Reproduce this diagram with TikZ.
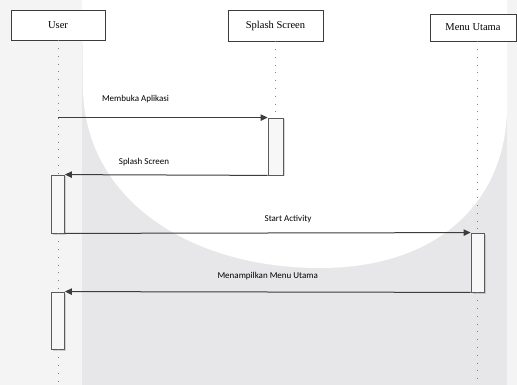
\documentclass[tikz,border=0pt]{standalone}
\usepackage{fontspec}
\setmainfont{Liberation Serif}
\newfontfamily\msgfont{Carlito}
\usepackage{tikz}
\usetikzlibrary{positioning, arrows.meta, shadows}

\definecolor{linegray}{HTML}{3C3C3C}
\definecolor{boxgray}{HTML}{5A5A5A}
\definecolor{bandgray}{HTML}{E7E7E9}
\definecolor{sidegray}{HTML}{F4F4F4}

\begin{document}
\begin{tikzpicture}[x=1pt, y=-1pt,
    actor/.style={rectangle, draw=linegray, fill=white, minimum width=94pt, minimum height=30pt, font=\fontsize{10.5}{12}\selectfont, drop shadow={shadow xshift=1.2pt, shadow yshift=-1.2pt, opacity=0.35}},
    activation/.style={rectangle, draw=boxgray, line width=0.8pt, fill=white!94!gray, minimum width=13pt, inner sep=0pt, drop shadow={shadow xshift=1.5pt, shadow yshift=-1.5pt, opacity=0.3}},
    lifeline/.style={draw=gray, line width=0.8pt, dash pattern=on 0.8pt off 7pt},
    message/.style={-{Triangle[length=7pt, width=6.5pt]}, draw=linegray, line width=1pt},
    msglabel/.style={font=\msgfont\fontsize{9}{11}\selectfont, inner sep=0pt}
]

% background
\useasboundingbox (0,0) rectangle (517,385);
\fill[sidegray] (0,0) rectangle (517,385);
\fill[bandgray] (82,0) rectangle (507,385);
\fill[white] (82,0) -- (83,90) .. controls (86,200) and (190,268) .. (320,268) .. controls (440,268) and (505,200) .. (507,110) -- (507,0) -- cycle;

\node[actor] (user) at (58,25) {User};
\node[actor, minimum width=95pt, minimum height=31pt] (splash) at (275.5,25.5) {Splash Screen};
\node[actor, minimum width=86pt, minimum height=27pt] (menu) at (473,27.5) {Menu Utama};

\node[activation, minimum width=15pt, minimum height=57pt] (act1) at (275.5,146.5) {};
\node[activation, minimum height=58pt] (act2) at (58,204) {};
\node[activation, minimum height=59pt] (act3) at (477.5,262.5) {};
\node[activation, minimum height=57pt] (act4) at (58,320.5) {};

\coordinate (bottom) at (0,385);

\draw[lifeline] (user.south) -- (act2.north);
\draw[lifeline] (act2.south) -- (act4.north);
\draw[lifeline] (act4.south) -- (act4.south |- bottom);
\draw[lifeline] (splash.south) -- (act1.north);
\draw[lifeline] (act3.north |- menu.south) -- (act3.north);
\draw[lifeline] (act3.south) -- (act3.south |- bottom);

\draw[message] (act1.north west -| user) -- node[msglabel, pos=0.37, above=14pt] {Membuka Aplikasi} (act1.north west);
\draw[message] (act1.south west) -- node[msglabel, pos=0.61, above=8pt] {Splash Screen} (act2.north east);
\draw[message] (act2.south east) -- node[msglabel, pos=0.55, above=10pt] {Start Activity} (act3.north west);
\draw[message] (act3.south west) -- node[msglabel, pos=0.5, above=12pt] {Menampilkan Menu Utama} (act4.north east);

\end{tikzpicture}
\end{document}
